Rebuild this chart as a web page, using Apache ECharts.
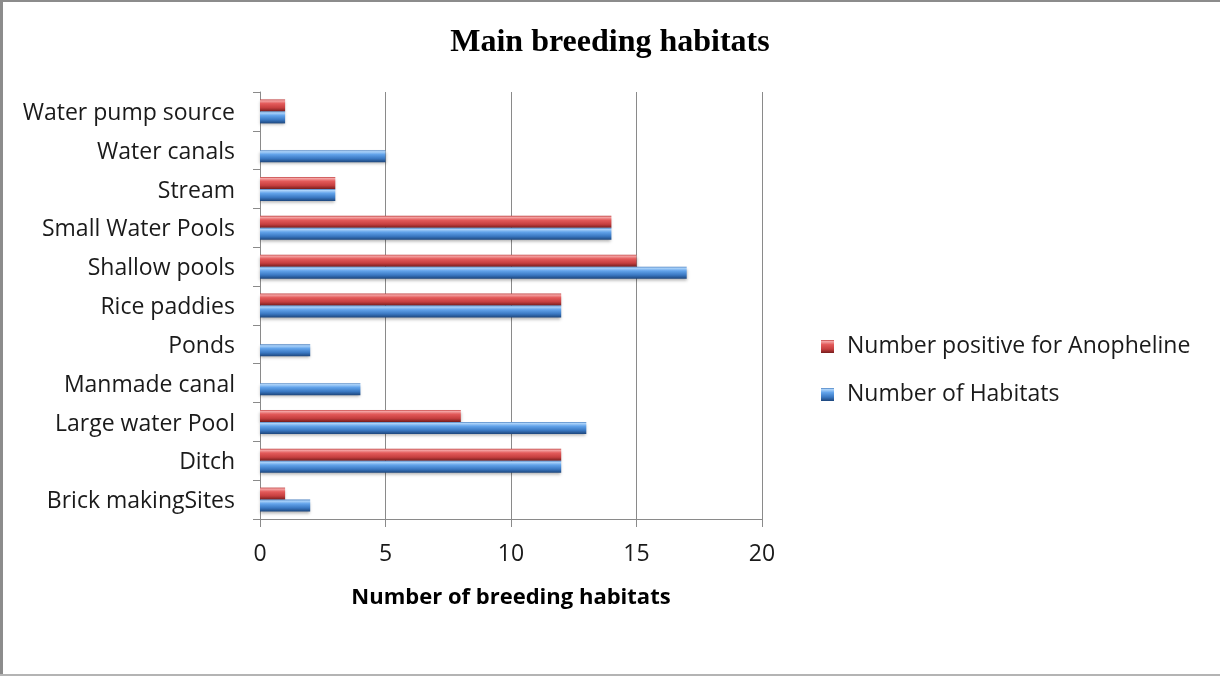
<!DOCTYPE html>
<html>
<head>
<meta charset="utf-8">
<script src="https://cdn.jsdelivr.net/npm/echarts@6/dist/echarts.min.js"></script>
<style>
  html, body { margin: 0; padding: 0; background: #fff; }
  #chart { width: 1220px; height: 676px; }
</style>
</head>
<body>
<div id="chart"></div>
<script>
// Habitat types, listed from the bottom of the axis to the top
const categories = [
  'Brick makingSites', 'Ditch', 'Large water Pool', 'Manmade canal', 'Ponds',
  'Rice paddies', 'Shallow pools', 'Small Water Pools', 'Stream',
  'Water canals', 'Water pump source'
];
const positiveCounts = [1, 12, 8, 0, 0, 12, 15, 14, 3, 0, 1];
const habitatCounts  = [2, 12, 13, 4, 2, 12, 17, 14, 3, 5, 1];
const xTicks = { min: 0, max: 20, interval: 5 };

const FONT = '"Open Sans", Lato, sans-serif';

function tube(stops) {
  return new echarts.graphic.LinearGradient(0, 0, 0, 1,
    stops.map(([offset, color]) => ({ offset, color })));
}

const redFill = tube([
  [0, '#c24444'], [0.12, '#f4a4a4'], [0.35, '#e35a5a'], [0.7, '#c63f3f'], [1, '#761d1d']
]);
const blueFill = tube([
  [0, '#4a80c0'], [0.12, '#acd3fa'], [0.35, '#62a3ea'], [0.7, '#3a78c2'], [1, '#1d467c']
]);

const chart = echarts.init(document.getElementById('chart'), null, { renderer: 'canvas' });

chart.setOption({
  animation: false,
  backgroundColor: '#ffffff',
  title: {
    text: 'Main breeding habitats',
    left: 'center',
    top: 22,
    textStyle: {
      fontFamily: '"Liberation Serif", "Times New Roman", serif',
      fontWeight: 'bold',
      fontSize: 32,
      color: '#000'
    }
  },
  graphic: [
    // frame around the chart area
    { type: 'line', silent: true, shape: { x1: 1.5, y1: 0, x2: 1.5, y2: 676 },
      style: { stroke: '#8c8c8c', lineWidth: 3 } },
    { type: 'line', silent: true, shape: { x1: 0, y1: 1, x2: 1220, y2: 1 },
      style: { stroke: '#8c8c8c', lineWidth: 2 } },
    { type: 'line', silent: true, shape: { x1: 0, y1: 675, x2: 1220, y2: 675 },
      style: { stroke: '#b4b4b4', lineWidth: 2 } }
  ],
  legend: {
    orient: 'vertical',
    left: 816,
    top: 330,
    itemGap: 25,
    itemWidth: 13,
    itemHeight: 13,
    icon: 'rect',
    textStyle: { fontFamily: FONT, fontSize: 23, color: '#1a1a1a', padding: [0, 0, 0, 8] },
    data: ['Number positive for Anopheline', 'Number of Habitats']
  },
  grid: { left: 260, right: 458, top: 92, bottom: 157, containLabel: false },
  xAxis: {
    type: 'value',
    min: xTicks.min,
    max: xTicks.max,
    interval: xTicks.interval,
    name: 'Number of breeding habitats',
    nameLocation: 'middle',
    nameGap: 68,
    nameTextStyle: { fontFamily: FONT, fontWeight: 'bold', fontSize: 22, color: '#000' },
    axisLine: { show: true, lineStyle: { color: '#8a8a8a', width: 1 } },
    axisTick: { show: true, length: 8, lineStyle: { color: '#8a8a8a' } },
    axisLabel: { fontFamily: FONT, fontSize: 23, color: '#1a1a1a', margin: 24 },
    splitLine: { show: true, lineStyle: { color: '#8a8a8a', width: 1 } }
  },
  yAxis: {
    type: 'category',
    data: categories,
    axisLine: { show: true, lineStyle: { color: '#8a8a8a', width: 1 } },
    axisTick: { show: true, length: 7, lineStyle: { color: '#8a8a8a' } },
    axisLabel: {
      margin: 25,
      formatter: (v) => '{c|' + v + '}',
      rich: {
        c: { fontFamily: FONT, fontSize: 23, color: '#1a1a1a', padding: [4, 0, 0, 0] }
      }
    },
    splitLine: { show: false }
  },
  series: [
    {
      name: 'Number positive for Anopheline',
      type: 'bar',
      data: positiveCounts,
      barWidth: 12,
      barGap: '0%',
      itemStyle: {
        color: redFill,
        shadowColor: 'rgba(0,0,0,0.3)',
        shadowBlur: 3,
        shadowOffsetY: 2
      }
    },
    {
      name: 'Number of Habitats',
      type: 'bar',
      data: habitatCounts,
      barWidth: 12,
      barGap: '0%',
      itemStyle: {
        color: blueFill,
        shadowColor: 'rgba(0,0,0,0.3)',
        shadowBlur: 3,
        shadowOffsetY: 2
      }
    }
  ]
});
</script>
</body>
</html>
